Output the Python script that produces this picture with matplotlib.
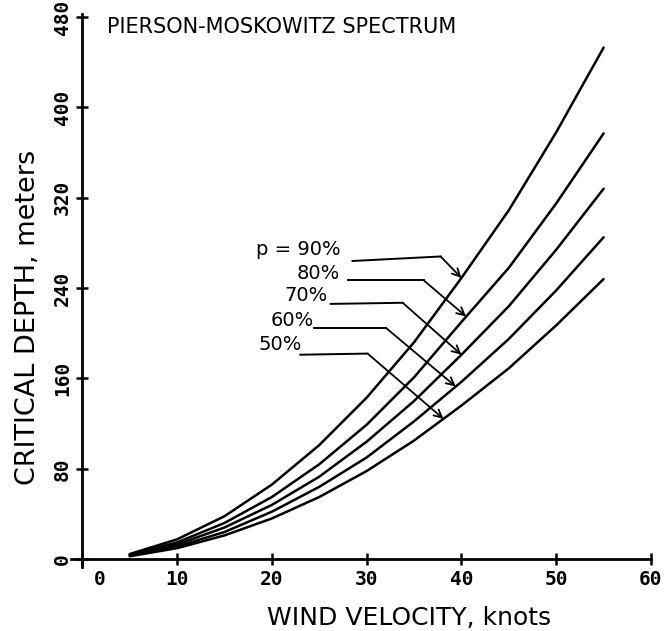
import numpy as np
import matplotlib
matplotlib.use("Agg")
import matplotlib.pyplot as plt
from matplotlib.transforms import ScaledTranslation

# wind velocity, knots
wind = [5, 10, 15, 20, 25, 30, 35, 40, 45, 50, 55]

# critical depth (m)
depth_90 = [4.5, 17.5, 38, 66, 101, 143, 192, 249, 309, 378, 453]
depth_80 = [4.0, 14.8, 32, 55, 84, 119, 161, 210, 258, 315, 377]
depth_70 = [3.5, 12.9, 28, 48, 73, 104, 140, 181, 224, 274, 328]
depth_60 = [3.0, 11.2, 24, 42, 64, 90, 122, 157, 195, 238, 285]
depth_50 = [2.5, 9.7, 21, 36, 55, 78, 105, 136, 169, 207, 248]

curves = [depth_90, depth_80, depth_70, depth_60, depth_50]
labels = ["p = 90%", "80%", "70%", "60%", "50%"]

# label anchors (right end of text) and leader lines
label_x = [27.2, 27.2, 25.9, 24.4, 23.2]
label_y = [274, 253, 233, 211, 190]
lead_start = [(28.5, 264), (28.0, 247), (26.2, 226), (24.4, 205), (23.0, 181)]
lead_bend = [(37.8, 268), (36.0, 247), (33.8, 227), (32.0, 205), (30.1, 182)]
tip_x = [40.0, 40.5, 40.0, 39.4, 38.1]

x_ticks = [0, 10, 20, 30, 40, 50, 60]
y_ticks = [0, 80, 160, 240, 320, 400, 480]

W, H = 668, 631
fig = plt.figure(figsize=(W / 100, H / 100), dpi=100)
ax = fig.add_axes([71 / W, 1 - 567 / H, 580 / W, 553.3 / H])

for d in curves:
    ax.plot(wind, d, color="black", lw=1.8, solid_capstyle="round")

for i, d in enumerate(curves):
    ax.text(label_x[i], label_y[i], labels[i], ha="right", va="center",
            fontsize=14, family="DejaVu Sans")
    (x0, y0), (x1, y1) = lead_start[i], lead_bend[i]
    ax.plot([x0, x1], [y0, y1], color="black", lw=1.4)
    ty = np.interp(tip_x[i], wind, d)
    ax.annotate("", xy=(tip_x[i], ty), xytext=(x1, y1),
                arrowprops=dict(arrowstyle="->", color="black", lw=1.3,
                                shrinkA=0, shrinkB=0, mutation_scale=14))

ax.set_xlim(-1.2, 60)
ax.set_ylim(-7, 483)
ax.spines["left"].set_position(("data", 0))
ax.spines["bottom"].set_position(("data", 0))
ax.spines["right"].set_visible(False)
ax.spines["top"].set_visible(False)
for s in ["left", "bottom"]:
    ax.spines[s].set_linewidth(2)

ax.set_xticks(x_ticks)
ax.set_yticks(y_ticks)
ax.set_yticklabels([str(v) for v in y_ticks], rotation=90, va="center")
ax.tick_params(axis="both", direction="inout", length=8, width=1.8,
               labelsize=14)
for lbl in ax.get_xticklabels() + ax.get_yticklabels():
    lbl.set_family("DejaVu Sans Mono")
    lbl.set_fontweight("bold")
# the zero on the x axis sits right of its tick in the original
zero_lbl = ax.get_xticklabels()[0]
zero_lbl.set_transform(zero_lbl.get_transform() +
                       ScaledTranslation(0.17, 0, fig.dpi_scale_trans))

fig.text(107 / W, 1 - 27 / H, "PIERSON-MOSKOWITZ SPECTRUM", ha="left",
         va="center", fontsize=15, family="DejaVu Sans")
fig.text(28 / W, 1 - 317 / H, "CRITICAL DEPTH, meters", rotation=90,
         ha="center", va="center", fontsize=19.5, family="DejaVu Sans")
fig.text(409 / W, 1 - 618 / H, "WIND VELOCITY, knots", ha="center",
         va="center", fontsize=18, family="DejaVu Sans")

fig.savefig("out.png", dpi=100)
